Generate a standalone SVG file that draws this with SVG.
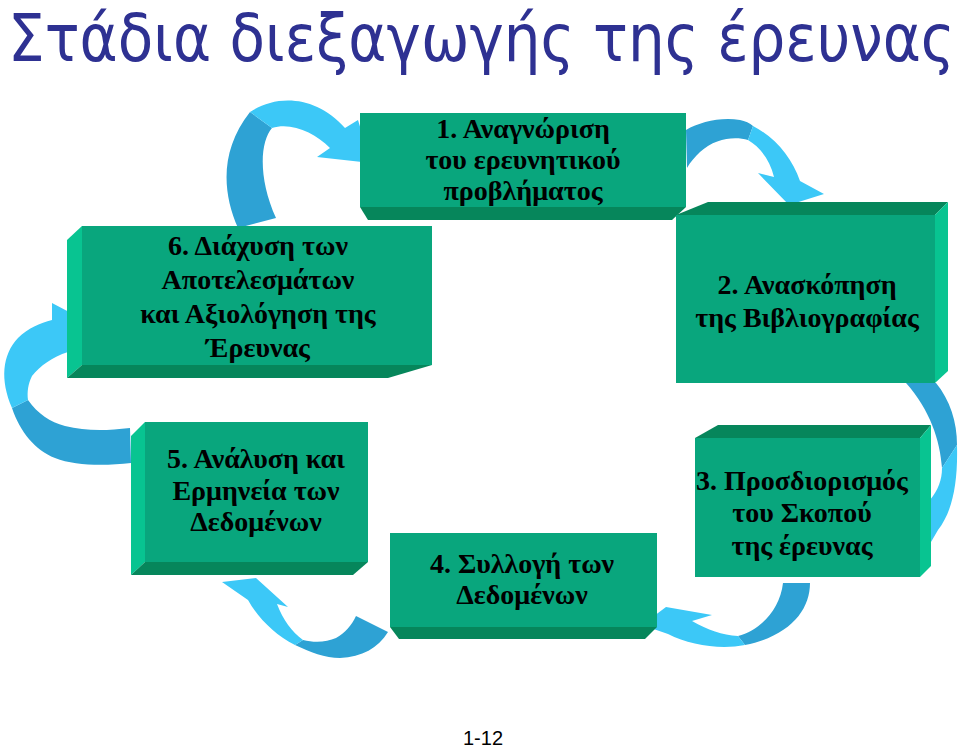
<svg xmlns="http://www.w3.org/2000/svg" width="960" height="748" viewBox="0 0 960 748">
<style>
.front{fill:#09a67d}
.dark{fill:#06865b}
.light{fill:#08c491}
.lbl{font-family:"Liberation Serif","Times New Roman",serif;font-weight:bold;font-size:28px;fill:#000;text-anchor:middle}
.title{font-family:"DejaVu Sans",Verdana,sans-serif;font-size:58px;fill:#2e3192}
.ac{fill:#3cc8f7}
.ad{fill:#2ea2d4}
</style>
<rect width="960" height="748" fill="#fff"/>
<text class="title" transform="translate(8,61) scale(1,1.14)" x="0" y="0">Στάδια διεξαγωγής της έρευνας</text>

<g id="connectors">
  <!-- 6 -> 1 -->
  <path class="ad" d="M238,228 C222,192 220,150 250,112 L272,128 C260,142 258,178 276,218 Z"/>
  <path class="ac" d="M250,112 C275,95 315,94 345,128 L358,120 L371,163 L317,157 L330,148 C315,133 292,122 272,128 Z"/>
  <!-- 1 -> 2 -->
  <path class="ad" d="M686,130 C700,122 720,117 740,120 C745,121 750,123 753,126 L748,140 C735,136 715,138 700,152 C695,157 690,162 687,168 Z"/>
  <path class="ac" d="M753,126 C776,138 792,158 800,181 L824,194 L789,205 L758,173 L774,177 C770,160 760,147 748,140 Z"/>
  <!-- 2 -> 3 -->
  <path class="ad" d="M906,383 L936,383 C950,400 957,422 957,445 L942,468 C940,440 930,410 906,383 Z"/>
  <path class="ac" d="M957,445 C958,485 952,512 938,530 L924,554 L906,522 L924,487 L930,500 C938,490 942,480 942,468 Z"/>
  <!-- 3 -> 4 -->
  <path class="ad" d="M783,583 L810,583 C810,610 790,636 745,645 L738,636 C760,630 780,610 783,583 Z"/>
  <path class="ac" d="M745,645 C720,650 690,645 668,634 L642,625 L666,607 L712,615 L692,621 C708,630 722,635 738,636 Z"/>
  <!-- 4 -> 5 -->
  <path class="ad" d="M356,616 L388,632 C378,648 362,657 340,658 C325,658 310,652 295,645 L303,640 C315,643 327,642 336,638 C345,633 352,625 356,616 Z"/>
  <path class="ac" d="M295,645 C275,635 258,618 248,600 L222,582 L256,578 L288,607 L277,604 C283,620 292,632 303,640 Z"/>
  <!-- 5 -> 6 -->
  <path class="ad" d="M130,428 L131,463 C105,466 75,466 55,458 C35,450 20,432 12,408 L28,400 C38,414 50,422 65,426 C85,431 105,431 130,428 Z"/>
  <path class="ac" d="M12,408 C0,380 2,355 18,338 C28,328 40,323 52,320 L52,303 L90,323 L67,378 L68,352 C52,357 40,366 32,376 C28,384 27,392 28,400 Z"/>
</g>

<g id="node1">
  <rect class="front" x="360" y="113" width="326" height="94"/>
  <polygon class="dark" points="360,207 686,207 672,220 368,220"/>
  <text class="lbl" x="523" y="138">1. Αναγνώριση</text>
  <text class="lbl" x="523" y="169">του ερευνητικού</text>
  <text class="lbl" x="523" y="200">προβλήματος</text>
</g>

<g id="node2">
  <polygon class="dark" points="676,215 708,202 948,202 935,215"/>
  <polygon class="light" points="935,215 948,202 948,371 935,383"/>
  <rect class="front" x="676" y="215" width="259" height="168"/>
  <text class="lbl" x="807" y="294">2. Ανασκόπηση</text>
  <text class="lbl" x="807" y="327">της Βιβλιογραφίας</text>
</g>

<g id="node3">
  <polygon class="dark" points="695,438 718,425 931,425 920,438"/>
  <polygon class="light" points="920,438 931,425 931,566 920,577"/>
  <rect class="front" x="695" y="438" width="225" height="139"/>
  <text class="lbl" x="802" y="490">3. Προσδιορισμός</text>
  <text class="lbl" x="802" y="522">του Σκοπού</text>
  <text class="lbl" x="802" y="555">της έρευνας</text>
</g>

<g id="node4">
  <rect class="front" x="390" y="533" width="267" height="94"/>
  <polygon class="dark" points="390,627 657,627 645,639 399,639"/>
  <text class="lbl" x="522" y="573">4. Συλλογή των</text>
  <text class="lbl" x="522" y="604">Δεδομένων</text>
</g>

<g id="node5">
  <polygon class="light" points="131,436 145,422 145,562 131,575"/>
  <polygon class="dark" points="131,575 145,562 368,562 353,575"/>
  <rect class="front" x="145" y="422" width="223" height="140"/>
  <text class="lbl" x="256" y="468">5. Ανάλυση και</text>
  <text class="lbl" x="256" y="500">Ερμηνεία των</text>
  <text class="lbl" x="256" y="531">Δεδομένων</text>
</g>

<g id="node6">
  <polygon class="light" points="67,240 82,226 82,365 67,378"/>
  <polygon class="dark" points="67,378 82,365 432,365 388,378"/>
  <rect class="front" x="82" y="226" width="350" height="139"/>
  <text class="lbl" x="258" y="255">6. Διάχυση των</text>
  <text class="lbl" x="258" y="289">Αποτελεσμάτων</text>
  <text class="lbl" x="258" y="323">και Αξιολόγηση της</text>
  <text class="lbl" x="258" y="357">Έρευνας</text>
</g>

<text x="483" y="745" font-family="Liberation Sans, Arial, sans-serif" font-size="20" text-anchor="middle" fill="#000">1-12</text>
</svg>
